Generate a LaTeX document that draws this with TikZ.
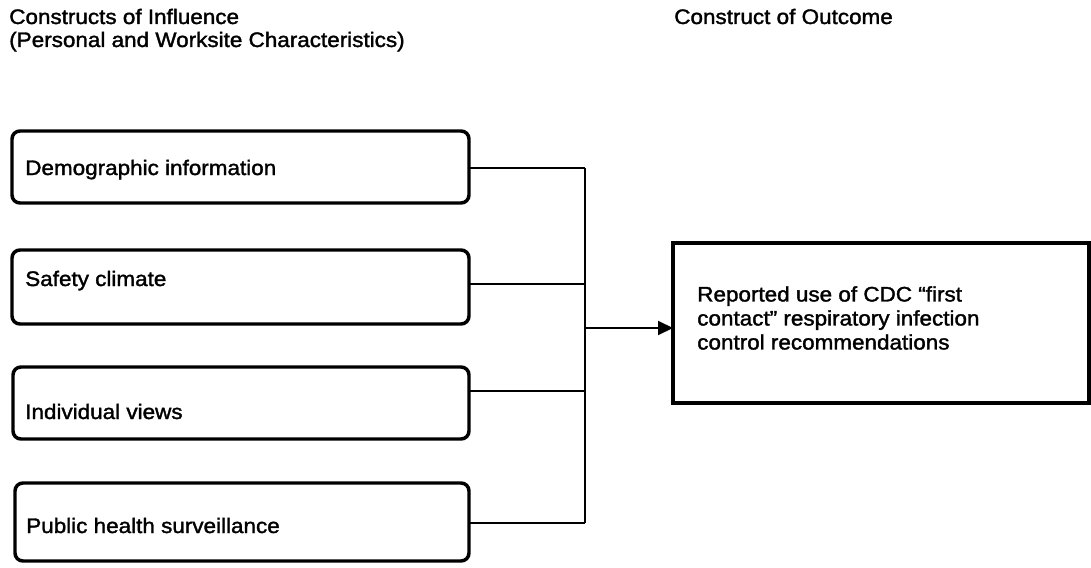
\documentclass[tikz,border=0pt]{standalone}
\usepackage{fontspec}
\setmainfont{Liberation Sans}[FakeStretch=1.07,FakeBold=1.6]
\usetikzlibrary{arrows.meta}
\begin{document}
\begin{tikzpicture}[x=0.75pt,y=-0.75pt,
  inbox/.style={draw,line width=2.6pt,rounded corners=6pt,inner sep=0pt,outer sep=0pt,anchor=north west},
  outbox/.style={draw,line width=2.6pt,inner sep=0pt,outer sep=0pt,anchor=north west},
  lbl/.style={inner sep=0pt,anchor=base west,font=\fontsize{15.75}{18}\selectfont},
  hdr/.style={inner sep=0pt,anchor=base west,font=\fontsize{15.75}{17.25}\selectfont},
  conn/.style={line width=1.5pt},
]
\useasboundingbox (0,0) rectangle (1091,567);
% headers
\node[hdr] (h1) at (9,24) {Constructs of Influence};
\node[hdr] (h2) at (9,47) {(Personal and Worksite Characteristics)};
\node[hdr] (h3) at (674,24) {Construct of Outcome};
% influence boxes
\node[inbox,minimum width=457*0.75pt,minimum height=72*0.75pt] (b1) at (12,131) {};
\node[inbox,minimum width=457*0.75pt,minimum height=74*0.75pt] (b2) at (12,250) {};
\node[inbox,minimum width=456*0.75pt,minimum height=72*0.75pt] (b3) at (13,367) {};
\node[inbox,minimum width=454*0.75pt,minimum height=78*0.75pt] (b4) at (15,483) {};
\node[lbl] (t1) at (25,175) {Demographic information};
\node[lbl] (t2) at (25,286) {Safety climate};
\node[lbl] (t3) at (25,419) {Individual views};
\node[lbl] (t4) at (26,533) {Public health surveillance};
% outcome box
\node[outbox,minimum width=416*0.75pt,minimum height=160*0.75pt] (out) at (673,243) {};
\node[lbl,anchor=north west,align=left,font=\fontsize{15.75}{18}\selectfont] (ot) at (697,286)
  {Reported use of CDC “first\\contact” respiratory infection\\control recommendations};
% connectors
\coordinate (j1) at (585,168);
\coordinate (j2) at (585,284);
\coordinate (j3) at (585,391);
\coordinate (j4) at (585,523);
\coordinate (ja) at (585,328);
\draw[conn] (j1 -| b1.east) -- (j1);
\draw[conn] (j2 -| b2.east) -- (j2);
\draw[conn] (j3 -| b3.east) -- (j3);
\draw[conn] (j4 -| b4.east) -- (j4);
\draw[conn] (j1) -- (j4);
\draw[conn,-{Triangle[length=11.25pt,width=10.5pt]}] (ja) -- (ja -| out.west);
\end{tikzpicture}
\end{document}
